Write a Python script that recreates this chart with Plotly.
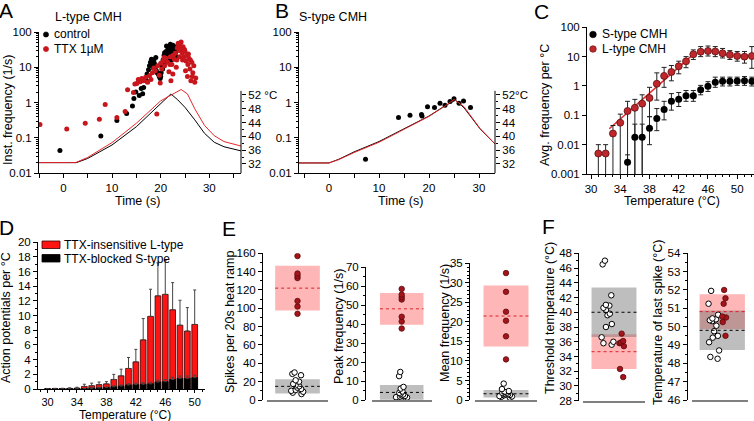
import plotly.graph_objects as go

# ---------------- data ----------------
# A: L-type CMH, instantaneous frequency (1/s) against time (s)
ctrl_t = [-0.7, 7.7, 11.0, 13.0, 14.2, 14.5, 14.9, 15.6, 16.0, 16.3, 16.5, 16.9, 17.2, 17.3, 17.5,
          17.7, 17.9, 18.1, 18.3, 18.5, 18.6, 18.7, 18.9, 19.0, 19.1, 19.3, 19.5, 19.7, 19.9, 20.0,
          20.1, 20.3, 20.5, 20.6, 20.7, 20.9, 21.0, 21.1, 21.2, 21.3, 21.4, 21.5, 21.7, 21.8, 21.9,
          22.0, 22.1, 22.2, 22.3, 22.5, 22.6, 22.7, 22.9, 23.1, 23.3,
          20.4, 20.8, 21.6, 22.4, 22.8, 23.0, 21.05, 22.15]
ctrl_f = [0.044, 0.113, 0.31, 0.49, 0.80, 1.3, 2.0, 1.6, 2.5, 1.8, 2.7, 4.5, 6.5, 4.0, 8.5,
          11, 14, 17, 12, 9.5, 16, 13, 10, 19, 8, 7, 6.5, 5.5, 4.8, 5.5,
          7, 11, 16, 13, 22, 18, 14, 28, 40, 24, 19, 35, 30, 22, 40,
          45, 33, 16, 25, 42, 19, 30, 38, 27, 20,
          9, 26, 16, 35, 24, 32, 20, 28]
ttx_t = [-4.8, 0.7, 4.5, 7.4, 8.6, 11.0, 12.7, 13.2, 14.4, 14.7, 15.1, 15.4, 15.8, 16.1, 16.5,
         16.9, 17.3, 17.7, 18.0, 18.3, 18.6, 18.9, 19.2, 19.4, 19.7, 19.9, 20.0, 20.2, 20.5, 20.7,
         20.8, 21.1, 21.4, 21.7, 21.9, 22.0, 22.1, 22.3, 22.5, 22.6, 22.8, 23.0, 23.2, 23.3, 23.4,
         23.6, 23.7, 23.8, 23.9, 24.0, 24.1, 24.2, 24.4, 24.5, 24.6, 24.8, 24.9, 25.0, 25.1, 25.2,
         25.4, 25.5, 25.6, 25.7, 25.8, 26.0, 26.1, 26.2, 26.4, 26.5, 26.6, 26.8, 27.0, 27.2]
ttx_f = [0.24, 0.18, 0.26, 0.34, 0.89, 0.38, 0.56, 2.3, 1.95, 3.4, 3.5, 4.5, 3.9, 4.8, 4.2,
         5.2, 3.8, 5.8, 4.5, 7.0, 9.5, 8.0, 0.48, 11, 6.0, 3.6, 13, 9, 15, 19,
         11, 18, 14, 7.5, 12, 20, 4.2, 12, 6.5, 22, 17, 25, 10, 16, 35,
         48, 40, 30, 20, 42, 33, 52, 26, 16, 38, 20, 32, 28, 8, 15,
         22, 5.5, 12, 24, 18, 9, 16, 4.2, 14, 5.5, 7, 11, 3.8, 5]
# A: heat ramps (°C)
a_ctrl_ramp_t = [-5, 2.7, 5, 10, 15, 20, 22.1, 23.5, 25, 27, 29, 31, 33, 36.5]
a_ctrl_ramp_c = [32.4, 32.4, 33.6, 37.5, 42.8, 49.4, 52.3, 50.6, 48.4, 44.8, 40.9, 38.3, 37.0, 35.8]
a_ttx_ramp_t = [-5, 2.5, 5, 10, 15, 20, 24.2, 25.5, 27, 29, 31, 33, 36.5]
a_ttx_ramp_c = [32.4, 32.4, 33.9, 38.2, 43.8, 50.3, 53.6, 52.3, 48.0, 43.2, 40.2, 38.5, 37.2]

# B: S-type CMH
b_t = [7.3, 13.9, 16.2, 18.5, 18.6, 19.7, 21.1, 22.2, 23.2, 24.2, 25.0, 26.0, 26.9, 28.3]
b_f = [0.025, 0.38, 0.44, 0.46, 0.42, 0.77, 0.73, 0.96, 0.84, 1.07, 1.29, 0.96, 1.11, 0.73]
b_ctrl_ramp_t = [-6, 0, 2, 5, 10, 15, 20, 23, 25.3, 27, 30.2, 33.2]
b_ctrl_ramp_c = [32.3, 32.3, 33.4, 35.5, 38.5, 42.1, 45.9, 48.7, 50.5, 48.3, 42.2, 37.8]
b_ttx_ramp_t = [-6, 0, 2, 5, 10, 15, 20, 23, 25, 27, 30.2, 33.2]
b_ttx_ramp_c = [32.3, 32.3, 33.3, 35.3, 38.3, 42.0, 45.8, 48.6, 50.7, 48.6, 42.3, 37.8]

# C: average frequency per °C
c_L_temp = list(range(31, 53))
c_L_mean = [0.005, 0.005, 0.024, 0.056, 0.14, 0.18, 0.25, 0.39, 1.19, 2.2, 3.0, 4.7, 6.9, 12,
            14.7, 15.6, 15, 13, 11.5, 10.5, 10, 10.5]
c_L_hi = [0.01, 0.01, 0.045, 0.11, 0.3, 0.35, 0.5, 0.9, 2.8, 4.3, 5.0, 7.0, 10, 17,
          22, 23, 22, 19, 16, 15, 15, 22]
c_L_lo = [0.0008, 0.0008, 0.0008, 0.0008, 0.0008, 0.0008, 0.0008, 0.09, 0.33, 0.9, 1.5, 2.6, 4.2, 8,
          10, 10.5, 10, 9, 8, 7, 6, 4]
c_S_temp = list(range(35, 53))
c_S_mean = [0.0025, 0.018, 0.018, 0.036, 0.078, 0.157, 0.30, 0.35, 0.46, 0.46, 0.74, 0.97,
            1.35, 1.44, 1.44, 1.48, 1.5, 1.44]
c_S_hi = [0.0045, 0.05, 0.05, 0.09, 0.17, 0.3, 0.55, 0.6, 0.7, 0.7, 1.05, 1.4, 2.0, 2.0, 2.0, 2.0, 2.1, 2.0]
c_S_lo = [0.0008, 0.0008, 0.0008, 0.01, 0.03, 0.07, 0.15, 0.2, 0.3, 0.3, 0.5, 0.65, 0.9, 1.0, 1.0,
          1.05, 1.05, 1.0]
c_fit_temp = [32.5, 44.3]
c_fit_f = [0.035, 14]

# D: action potentials per °C
d_temp = list(range(30, 51))
d_L = [0.03, 0.05, 0.05, 0.08, 0.12, 0.35, 0.45, 0.6, 0.7, 1.3, 1.8, 2.8, 3.7, 6.7, 9.9, 12.7,
       12.9, 10.8, 8.7, 7.9, 8.8]
d_L_err = [0.03, 0.04, 0.05, 0.08, 0.12, 0.3, 0.35, 0.35, 0.3, 0.7, 0.9, 1.5, 1.7, 2.9, 3.7, 4.5,
           4.6, 3.7, 3.4, 3.2, 4.7]
d_S = [0.02, 0.02, 0.03, 0.04, 0.05, 0.05, 0.1, 0.15, 0.2, 0.3, 0.4, 0.55, 0.6, 0.65, 0.7, 0.95,
       1.0, 1.3, 1.45, 1.45, 1.55]
d_S_err = [0.02, 0.02, 0.02, 0.03, 0.03, 0.04, 0.06, 0.08, 0.1, 0.12, 0.15, 0.18, 0.2, 0.2, 0.22,
           0.25, 0.28, 0.3, 0.32, 0.32, 0.33]

# E / F: individual cells, mean and SD (S-type, L-type)
spikes_L = [157, 138, 135.5, 133, 108, 102, 94]
spikes_S = [30, 28.5, 27, 21.5, 20, 17.5, 16, 15, 13.5, 12, 11, 10, 9, 8, 6.5]
spikes_mean = [14.9, 122]
spikes_sd = [7.7, 24.3]
peak_L = [58.6, 55.6, 54.3, 53.0, 43.9, 41.4, 37.7]
peak_S = [14.8, 12.6, 6.9, 6.0, 4.5, 3.8, 3.3, 2.9, 2.5, 2.1, 1.8, 1.5, 1.3, 1.1, 0.9]
peak_mean = [4.0, 48.1]
peak_sd = [3.9, 8.4]
meanf_L = [32.5, 27.7, 22.6, 20.3, 16.3, 10.4]
meanf_S = [4.2, 2.8, 2.3, 2.1, 1.9, 1.8, 1.6, 1.5, 1.4, 1.3, 1.2, 1.0, 0.9, 0.8, 0.6]
meanf_mean = [1.6, 21.5]
meanf_sd = [0.95, 7.8]
thr_L = [37.1, 36.1, 35.9, 35.8, 35.4, 32.3, 31.2]
thr_S = [47.0, 46.5, 42.3, 41.0, 40.9, 40.6, 40.3, 39.8, 39.6, 38.4, 38.0, 36.6, 36.0, 35.8, 35.6]
thr_mean = [40.0, 34.65]
thr_sd = [3.35, 2.35]
last_L = [52.0, 51.55, 51.25, 50.55, 50.5, 50.25, 49.5]
last_S = [51.95, 51.25, 50.65, 50.45, 50.4, 50.35, 50.3, 50.05, 49.75, 49.5, 49.4, 49.15, 48.7,
          48.35, 48.25]
last_mean = [49.8, 50.82]
last_sd = [1.08, 0.95]

# ---------------- helpers ----------------
W, H = 754, 421
FONT = "Liberation Sans, Arial, sans-serif"
RED = "#c8161d"
DARKRED = "#a3141b"


def px(x):
    return x / W


def py(y):
    return 1 - y / H


def axis(**kw):
    a = dict(showline=True, linecolor="black", linewidth=1, ticks="outside", ticklen=4,
             tickwidth=1, tickcolor="black", showgrid=False, zeroline=False, automargin=False,
             tickfont=dict(size=11.5, color="black", family=FONT))
    a.update(kw)
    return a


def minor(dtick, ln=2):
    return dict(dtick=dtick, ticks="outside", ticklen=ln, tickcolor="black", showgrid=False)


def ann(text, x, y, size=12, angle=0, xanchor="center", yanchor="middle"):
    return dict(text=text, x=px(x), y=py(y), xref="paper", yref="paper", showarrow=False,
                font=dict(size=size, color="black", family=FONT), textangle=angle,
                xanchor=xanchor, yanchor=yanchor)


def dot(cx, cy, r, fill, edge):
    return dict(type="circle", xref="paper", yref="paper", x0=px(cx - r), x1=px(cx + r),
                y0=py(cy + r), y1=py(cy - r), fillcolor=fill, line=dict(color=edge, width=0.6))


fig = go.Figure()
shapes = []
annotations = []

# ---------------- A ----------------
fig.add_trace(go.Scatter(x=ctrl_t, y=ctrl_f, mode="markers", xaxis="x", yaxis="y",
                         marker=dict(color="black", size=5)))
fig.add_trace(go.Scatter(x=ttx_t, y=ttx_f, mode="markers", xaxis="x", yaxis="y",
                         marker=dict(color=RED, size=5)))
fig.add_trace(go.Scatter(x=a_ctrl_ramp_t, y=a_ctrl_ramp_c, mode="lines", xaxis="x", yaxis="y2",
                         line=dict(color="black", width=1)))
fig.add_trace(go.Scatter(x=a_ttx_ramp_t, y=a_ttx_ramp_c, mode="lines", xaxis="x", yaxis="y2",
                         line=dict(color="#e8262a", width=1)))

# ---------------- B ----------------
fig.add_trace(go.Scatter(x=b_t, y=b_f, mode="markers", xaxis="x2", yaxis="y3",
                         marker=dict(color="black", size=5)))
fig.add_trace(go.Scatter(x=b_ctrl_ramp_t, y=b_ctrl_ramp_c, mode="lines", xaxis="x2", yaxis="y4",
                         line=dict(color="black", width=1)))
fig.add_trace(go.Scatter(x=b_ttx_ramp_t, y=b_ttx_ramp_c, mode="lines", xaxis="x2", yaxis="y4",
                         line=dict(color="#e8262a", width=1)))

# ---------------- C ----------------
fig.add_trace(go.Scatter(x=c_fit_temp, y=c_fit_f, mode="lines", xaxis="x3", yaxis="y5",
                         line=dict(color="#e8262a", width=1.5)))
fig.add_trace(go.Scatter(
    x=c_L_temp, y=c_L_mean, mode="markers", xaxis="x3", yaxis="y5",
    marker=dict(color="#c0272d", size=7, line=dict(color="#5a1010", width=0.8)),
    error_y=dict(type="data", symmetric=False,
                 array=[h - m for h, m in zip(c_L_hi, c_L_mean)],
                 arrayminus=[m - l for m, l in zip(c_L_mean, c_L_lo)],
                 color="#222", thickness=1, width=2.5)))
fig.add_trace(go.Scatter(
    x=c_S_temp, y=c_S_mean, mode="markers", xaxis="x3", yaxis="y5",
    marker=dict(color="black", size=7),
    error_y=dict(type="data", symmetric=False,
                 array=[h - m for h, m in zip(c_S_hi, c_S_mean)],
                 arrayminus=[m - l for m, l in zip(c_S_mean, c_S_lo)],
                 color="#222", thickness=1, width=2.5)))

# ---------------- D ----------------
fig.add_trace(go.Bar(x=d_temp, y=d_L, xaxis="x4", yaxis="y6", width=0.78,
                     marker=dict(color="#ff1414", line=dict(color="#3a0000", width=0.8)),
                     error_y=dict(type="data", symmetric=False, array=d_L_err,
                                  arrayminus=[0] * len(d_L), color="#444", thickness=1, width=1.5)))
fig.add_trace(go.Bar(x=d_temp, y=d_S, xaxis="x4", yaxis="y6", width=0.78,
                     marker=dict(color="black", line=dict(color="black", width=0.8)),
                     error_y=dict(type="data", symmetric=False, array=d_S_err,
                                  arrayminus=[0] * len(d_S), color="#444", thickness=1, width=1.5)))

# ---------------- E / F ----------------
ef = [
    # x axis, y axis, x-domain px, y-domain px, y range, dtick, minor, y-axis px, S, L, mean, sd, offsets
    ("x5", "y7", (266.7, 328.3), (253.3, 400), [0, 160], 20, 10, 262, spikes_S, spikes_L,
     spikes_mean, spikes_sd, (0, 0)),
    ("x6", "y8", (371.7, 431.7), (267.3, 400), [0, 70], 10, 5, 365, peak_S, peak_L,
     peak_mean, peak_sd, (0, 0)),
    ("x7", "y9", (475, 537), (263.3, 400), [0, 35], 5, 1, 469, meanf_S, meanf_L,
     meanf_mean, meanf_sd, (0, 0)),
    ("x8", "y10", (583, 645), (253.3, 400.7), [28, 48], 2, 1, 578.3, thr_S, thr_L,
     thr_mean, thr_sd, (-0.2, 0.25)),
    ("x9", "y11", (691.7, 748.3), (253.3, 400), [46, 54], 1, 0.5, 686.7, last_S, last_L,
     last_mean, last_sd, (-0.2, 0.15)),
]
layout_axes = {}
for i, (xa, ya, xd, yd, yr, dt, mn, ypos, S, L, mean, sd, offs) in enumerate(ef):
    xname = "xaxis" + xa[1:]
    yname = "yaxis" + ya[1:]
    layout_axes[xname] = dict(domain=[px(xd[0]), px(xd[1])], range=[-1, 1], anchor=ya,
                              showline=True, linecolor="#808080", linewidth=1.5, ticks="",
                              showticklabels=False, showgrid=False, zeroline=False,
                              automargin=False)
    layout_axes[yname] = axis(domain=[py(yd[1]), py(yd[0])], range=yr, dtick=dt, tick0=yr[0],
                              anchor="free", position=px(ypos), minor=minor(mn))
    bw = 1.45 if i < 4 else 1.6
    bx = 0 if i < 4 else 0.08
    # mean ± SD boxes
    fig.add_trace(go.Bar(x=[bx], y=[2 * sd[1]], base=[mean[1] - sd[1]], width=bw, xaxis=xa,
                         yaxis=ya, marker=dict(color="rgba(255,110,110,0.5)", line=dict(width=0))))
    fig.add_trace(go.Bar(x=[bx], y=[2 * sd[0]], base=[mean[0] - sd[0]], width=bw, xaxis=xa,
                         yaxis=ya, marker=dict(color="rgba(110,110,110,0.45)", line=dict(width=0))))
    shapes.append(dict(type="line", xref=xa, yref=ya, x0=bx - bw / 2, x1=bx + bw / 2,
                       y0=mean[1], y1=mean[1], line=dict(color="#d8202a", width=1, dash="dot")))
    shapes.append(dict(type="line", xref=xa, yref=ya, x0=bx - bw / 2, x1=bx + bw / 2,
                       y0=mean[0], y1=mean[0], line=dict(color="black", width=1, dash="dot")))
    # individual cells
    fig.add_trace(go.Box(y=S, x0=offs[0], width=0.5, boxpoints="all", jitter=1, pointpos=0,
                         xaxis=xa, yaxis=ya, fillcolor="rgba(0,0,0,0)", line=dict(width=0),
                         marker=dict(color="white", size=5.5, line=dict(color="black", width=1))))
    fig.add_trace(go.Box(y=L, x0=offs[1], width=0.3 if offs[1] else 0.1, boxpoints="all",
                         jitter=0.6 if offs[1] else 0, pointpos=0, xaxis=xa, yaxis=ya,
                         fillcolor="rgba(0,0,0,0)", line=dict(width=0),
                         marker=dict(color=DARKRED, size=5.5, line=dict(color="#5c0a0e", width=0.8))))

# ---------------- axes ----------------
log_ticks = dict(type="log", dtick=1, tick0=0, minor=minor("D1"))
layout_axes.update(
    xaxis=axis(domain=[px(39), px(241)], range=[-5, 36.5], anchor="y", dtick=10, tick0=0,
               minor=minor(5, 4)),
    yaxis=axis(domain=[py(173.3), py(32)], range=[-2, 2], anchor="x", **log_ticks),
    yaxis2=axis(overlaying="y", side="right", anchor="x", range=[29.3, 70.26], showline=False,
                tickvals=[32, 36, 40, 44, 48, 52], ticktext=["32", "36", "40", "44", "48", "52 °C"],
                minor=dict(tickvals=[34, 38, 42, 46, 50], ticks="outside", ticklen=2,
                           tickcolor="black")),
    xaxis2=axis(domain=[px(299), px(495)], range=[-6, 33.2], anchor="y3", dtick=10, tick0=0,
                minor=minor(5, 4)),
    yaxis3=axis(domain=[py(173.3), py(32)], range=[-2, 2], anchor="x2", **log_ticks),
    yaxis4=axis(overlaying="y3", side="right", anchor="x2", range=[29.3, 70.26], showline=False,
                tickvals=[32, 36, 40, 44, 48, 52], ticktext=["32", "36", "40", "44", "48", "52°C"],
                minor=dict(tickvals=[34, 38, 42, 46, 50], ticks="outside", ticklen=2,
                           tickcolor="black")),
    xaxis3=axis(domain=[px(587), px(754)], range=[29.45, 52.3], anchor="y5", dtick=4, tick0=30,
                minor=minor(1)),
    yaxis5=axis(domain=[py(174), py(27.3)], range=[-3, 2], anchor="x3", type="log", dtick=1,
                tick0=0),
    xaxis4=axis(domain=[px(38), px(205)], range=[28.7, 51.4], anchor="y6", dtick=4, tick0=30,
                ticklen=3, minor=minor(1), tickfont=dict(size=11, color="black", family=FONT)),
    yaxis6=axis(domain=[py(389), py(242.3)], range=[0, 20], anchor="x4", dtick=2, tick0=0,
                minor=minor(1)),
)

shapes.append(dict(type="line", xref="paper", yref="y2", x0=px(241), x1=px(241), y0=29.3,
                   y1=53.2, line=dict(color="black", width=1)))
shapes.append(dict(type="line", xref="paper", yref="y4", x0=px(495), x1=px(495), y0=29.3,
                   y1=53.2, line=dict(color="black", width=1)))

# legends
shapes += [dot(46, 34.5, 2.6, "black", "black"), dot(46, 49, 2.6, RED, RED),
           dot(593, 34.5, 3.3, "black", "black"), dot(593, 49, 3.3, "#c0272d", "#5a1010"),
           dict(type="rect", xref="paper", yref="paper", x0=px(42), x1=px(60), y0=py(248.5),
                y1=py(241), fillcolor="#ff1414", line=dict(color="#3a0000", width=0.8)),
           dict(type="rect", xref="paper", yref="paper", x0=px(42), x1=px(60), y0=py(262),
                y1=py(254.5), fillcolor="black", line=dict(color="black", width=0.8))]
annotations += [
    ann("control", 52, 34.5, 12, xanchor="left"),
    ann("TTX 1µM", 52, 49, 12, xanchor="left"),
    ann("S-type CMH", 600, 34.5, 12, xanchor="left"),
    ann("L-type CMH", 600, 49, 12, xanchor="left"),
    ann("TTX-insensitive L-type", 62, 245, 12, xanchor="left"),
    ann("TTX-blocked S-type", 62, 258.5, 12, xanchor="left"),
    # titles
    ann("L-type CMH", 53, 17, 12.5, xanchor="left"),
    ann("S-type CMH", 297, 17, 12.5, xanchor="left"),
    # panel letters
    ann("A", 6, 11, 21), ann("B", 282, 11, 21), ann("C", 541, 12, 21),
    ann("D", 6, 227, 21), ann("E", 229, 228, 21), ann("F", 548, 226, 21),
    # axis titles
    ann("Inst. frequency (1/s)", 8, 110, 12.5, angle=-90),
    ann("Avg. frequency per °C", 545, 105, 12.5, angle=-90),
    ann("Action potentials per °C", 6, 318, 12.5, angle=-90),
    ann("Spikes per 20s heat ramp", 230, 322, 12.5, angle=-90),
    ann("Peak frequency (1/s)", 339, 327, 12.5, angle=-90),
    ann("Mean frequency (1/s)", 445, 323, 12.5, angle=-90),
    ann("Threshold temperature (°C)", 550, 318, 12.5, angle=-90),
    ann("Temperature of last spike (°C)", 658, 323, 12.5, angle=-90),
    ann("Time (s)", 137, 201, 12.5), ann("Time (s)", 400, 201, 12.5),
    ann("Temperature (°C)", 672, 201, 12.5), ann("Temperature (°C)", 125, 414.5, 12),
]

fig.update_layout(
    template="none",
    width=W, height=H, margin=dict(l=0, r=0, t=0, b=0, autoexpand=False), showlegend=False,
    paper_bgcolor="white", plot_bgcolor="white", barmode="overlay",
    font=dict(family=FONT, color="black"),
    shapes=shapes, annotations=annotations, **layout_axes,
)

# the page's default body margin would push the fixed-size figure off the window
fig.write_html("out.html", config={"displayModeBar": False},
               post_script="document.body.style.margin='0';document.body.style.padding='0';")
